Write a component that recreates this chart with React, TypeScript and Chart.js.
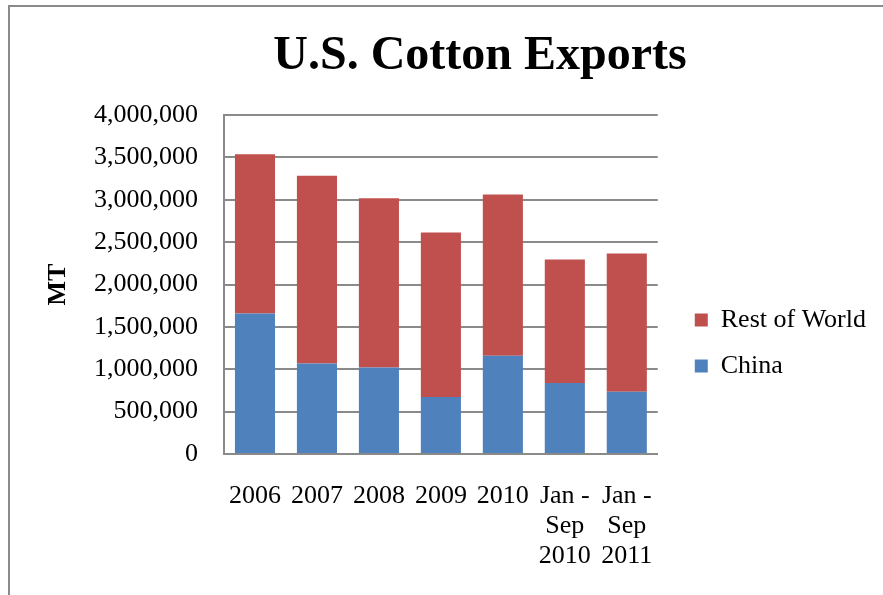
import React, { useEffect, useRef } from "react";
import { Chart, registerables } from "chart.js";

Chart.register(...registerables);

const TITLE = "U.S. Cotton Exports";
const Y_TITLE = "MT";
const categories: (string | string[])[] = [
  "2006",
  "2007",
  "2008",
  "2009",
  "2010",
  ["Jan -", "Sep", "2010"],
  ["Jan -", "Sep", "2011"],
];
const chinaValues = [1659000, 1069000, 1022000, 672000, 1159000, 837000, 735000];
const restOfWorldValues = [1879000, 2213000, 1997000, 1942000, 1903000, 1459000, 1632000];
const yMin = 0;
const yMax = 4000000;
const yStep = 500000;

const FONT = "'Liberation Serif', 'Times New Roman', serif";
const GRID = "#8a8a8a";

export default function App() {
  const ref = useRef<HTMLCanvasElement>(null);

  useEffect(() => {
    Chart.defaults.font.family = FONT;
    const chart = new Chart(ref.current!, {
      type: "bar",
      data: {
        labels: categories,
        datasets: [
          { label: "China", data: chinaValues, backgroundColor: "#4F81BD", stack: "s" },
          { label: "Rest of World", data: restOfWorldValues, backgroundColor: "#C0504D", stack: "s" },
        ],
      },
      options: {
        responsive: false,
        animation: false,
        layout: { padding: { left: 0, top: 115, right: 7, bottom: 24 } },
        datasets: { bar: { barPercentage: 0.647, categoryPercentage: 1 } },
        plugins: {
          title: { display: false },
          tooltip: { enabled: false },
          legend: {
            position: "right",
            reverse: true,
            maxWidth: 400,
            labels: {
              boxWidth: 13,
              boxHeight: 13,
              padding: 20,
              color: "#000",
              font: { size: 26, family: FONT },
            },
          },
        },
        scales: {
          x: {
            stacked: true,
            grid: { display: false, drawTicks: false },
            border: { color: GRID, width: 2 },
            ticks: {
              padding: 27,
              color: "#000",
              font: { size: 26, lineHeight: 1.15, family: FONT },
              maxRotation: 0,
              minRotation: 0,
              autoSkip: false,
            },
            afterFit: (s: any) => {
              s.height = 117;
            },
          },
          y: {
            stacked: true,
            min: yMin,
            max: yMax,
            ticks: {
              stepSize: yStep,
              padding: 26,
              color: "#000",
              font: { size: 26, family: FONT },
              callback: (v: any) => Number(v).toLocaleString("en-US"),
            },
            grid: { color: GRID, lineWidth: 2, drawTicks: false },
            border: { color: GRID, width: 2 },
            title: {
              display: true,
              text: Y_TITLE,
              color: "#000",
              font: { size: 26, weight: "bold", lineHeight: 1.2, family: FONT },
              padding: { top: 43, bottom: 0 },
            },
            afterFit: (s: any) => {
              s.width = 224;
            },
          },
          y2: {
            position: "right",
            display: true,
            grid: { display: false, drawTicks: false },
            border: { display: false },
            ticks: { display: false },
            afterFit: (s: any) => {
              s.width = 17;
            },
          },
        },
      },
    } as any);
    return () => chart.destroy();
  }, []);

  return (
    <div
      style={{
        position: "fixed",
        left: 0,
        top: 0,
        width: 883,
        height: 595,
        overflow: "hidden",
        background: "#fff",
      }}
    >
      <div
        style={{
          position: "absolute",
          left: 8,
          top: 5,
          width: 1000,
          height: 1000,
          border: "2px solid #8a8a8a",
        }}
      />
      <canvas
        ref={ref}
        width={883}
        height={595}
        style={{ position: "absolute", left: 0, top: 0, width: 883, height: 595 }}
      />
      <div
        style={{
          position: "absolute",
          left: 0,
          top: 29,
          width: 960,
          textAlign: "center",
          font: `bold 48px ${FONT}`,
          lineHeight: "48px",
          color: "#000",
          whiteSpace: "nowrap",
        }}
      >
        {TITLE}
      </div>
    </div>
  );
}
